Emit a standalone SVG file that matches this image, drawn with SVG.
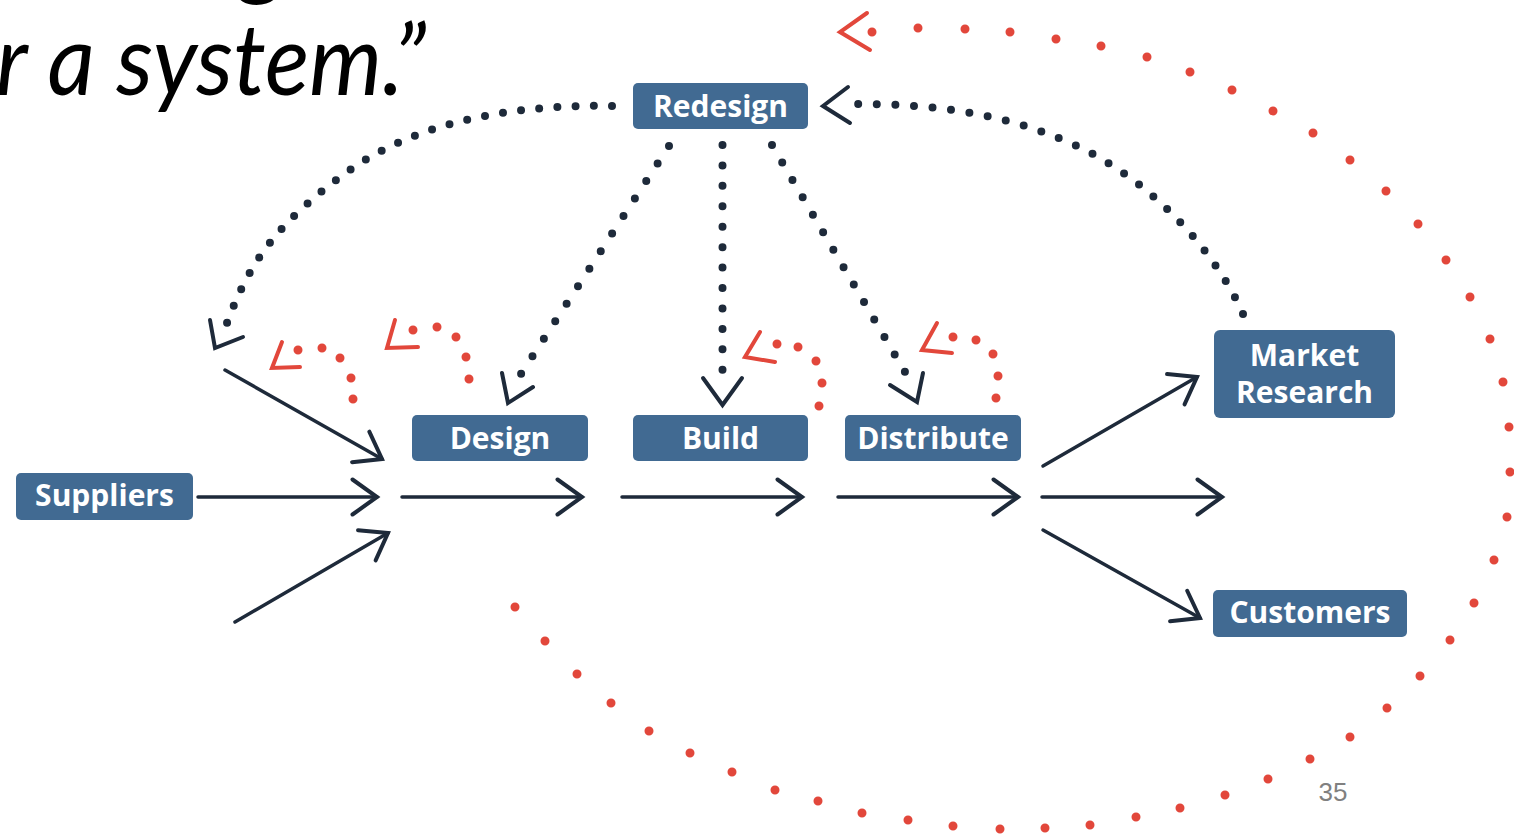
<svg xmlns="http://www.w3.org/2000/svg" width="1514" height="837" viewBox="0 0 1514 837">
  <style>
    .box { fill: #416a92; }
    .label { font-family: "Open Sans", "DejaVu Sans", sans-serif; font-weight: 700; font-size: 30px; fill: #ffffff; text-anchor: middle; }
    .flow { fill: none; stroke: #1e2a3a; stroke-width: 3.5; stroke-linecap: round; }
    .head { fill: none; stroke: #1e2a3a; stroke-width: 4; stroke-linecap: round; stroke-linejoin: miter; }
    .dots { fill: none; stroke: #1e2a3a; stroke-width: 8; stroke-linecap: round; stroke-dasharray: 0 1; }
    .rdots { fill: none; stroke: #e2473b; stroke-width: 9; stroke-linecap: round; }
    .rhead { fill: none; stroke: #e2473b; stroke-width: 4; stroke-linecap: round; stroke-linejoin: miter; }
    .quote { font-family: Lato, "Open Sans", sans-serif; font-style: italic; font-size: 100px; fill: #000000; }
  </style>
  <defs>
    <marker id="chev" viewBox="-28 -20 32 40" refX="0" refY="0" markerWidth="32" markerHeight="40" markerUnits="userSpaceOnUse" orient="auto">
      <path d="M-24.5,-17.5 L0,0 L-24.5,17.5" fill="none" stroke="#1e2a3a" stroke-width="4" stroke-linecap="round"/>
    </marker>
  </defs>

  <rect width="1514" height="837" fill="#ffffff"/>

  <!-- tail of the heading text -->
  <text class="quote" x="240" y="-14">g</text>
  <text class="quote" x="-4" y="95" textLength="430" lengthAdjust="spacingAndGlyphs">r a system.”</text>

  <g id="connectors">
    <!-- solid flow arrows -->
    <line class="flow" x1="198" y1="497" x2="377" y2="497" marker-end="url(#chev)"/>
    <line class="flow" x1="225" y1="370" x2="382" y2="459" marker-end="url(#chev)"/>
    <line class="flow" x1="235" y1="622" x2="388" y2="533" marker-end="url(#chev)"/>
    <line class="flow" x1="402" y1="497" x2="582" y2="497" marker-end="url(#chev)"/>
    <line class="flow" x1="622" y1="497" x2="802" y2="497" marker-end="url(#chev)"/>
    <line class="flow" x1="838" y1="497" x2="1018" y2="497" marker-end="url(#chev)"/>
    <line class="flow" x1="1042" y1="497" x2="1222" y2="497" marker-end="url(#chev)"/>
    <line class="flow" x1="1043" y1="466" x2="1197" y2="377" marker-end="url(#chev)"/>
    <line class="flow" x1="1043" y1="530" x2="1200" y2="618" marker-end="url(#chev)"/>

    <!-- dotted redesign loops -->
    <path class="dots" pathLength="26.01" d="M612,106 C520,104 420,120 350,170 C280,220 250,260 227,323"/>
    <path class="head" d="M210,320 L215,348 L243,337"/>
    <path class="dots" pathLength="25.01" d="M1243,314 C1215,250 1150,180 1077,146 C1004,112 930,104 858,104"/>
    <path class="head" d="M848,87 L823,106 L850,123"/>
    <path class="dots" pathLength="13.01" d="M669,146 L521,374"/>
    <path class="head" d="M502,373 L508,403 L533,387"/>
    <path class="dots" pathLength="11.01" d="M722.5,145 L722.5,370"/>
    <path class="head" d="M703,378 L722.5,405 L742,378"/>
    <path class="dots" pathLength="13.01" d="M772,145 L905,372"/>
    <path class="head" d="M890,385 L917,402 L923,373"/>

    <!-- small red feedback hooks -->
    <path class="rdots" d="M298,350h0.01 M322,348h0.01 M340,358h0.01 M351,378h0.01 M353,399h0.01"/>
    <path class="rhead" d="M282,342 L272,368 L300,367"/>
    <path class="rdots" d="M413,330h0.01 M437,327h0.01 M456,337h0.01 M466,357h0.01 M469,379h0.01"/>
    <path class="rhead" d="M395,320 L387,348 L418,347"/>
    <path class="rdots" d="M777,344h0.01 M798,347h0.01 M816,361h0.01 M822,383h0.01 M819,406h0.01"/>
    <path class="rhead" d="M760,332 L745,357 L775,362"/>
    <path class="rdots" d="M953,337h0.01 M976,340h0.01 M993,354h0.01 M998,376h0.01 M996,398h0.01"/>
    <path class="rhead" d="M937,323 L922,350 L952,353"/>

    <!-- large red outer loop -->
    <path class="rdots" d="M515,607h0.01 M545,641h0.01 M577,674h0.01 M611,703h0.01 M649,731h0.01 M690,753h0.01 M732,772h0.01 M775,790h0.01 M818,801h0.01 M862,813h0.01 M908,820h0.01 M953,826h0.01 M1000,829h0.01 M1045,828h0.01 M1090,825h0.01 M1136,817h0.01 M1180,808h0.01 M1225,795h0.01 M1268,779h0.01 M1310,759h0.01 M1350,737h0.01 M1387,708h0.01 M1420,676h0.01 M1450,640h0.01 M1474,603h0.01 M1494,560h0.01 M1507,517h0.01 M1510,472h0.01 M1509,427h0.01 M1503,382h0.01 M1490,339h0.01 M1470,297h0.01 M1446,260h0.01 M1418,224h0.01 M1386,191h0.01 M1350,160h0.01 M1313,133h0.01 M1273,111h0.01 M1232,90h0.01 M1190,72h0.01 M1147,57h0.01 M1101,46h0.01 M1056,39h0.01 M1010,32h0.01 M965,29h0.01 M918,28h0.01 M872,32h0.01"/>
    <path class="rhead" d="M867,13 L840,32 L870,50"/>
  </g>

  <g id="redesign">
    <rect class="box" x="633" y="83" width="175" height="46" rx="5"/>
    <text class="label" x="720.5" y="117">Redesign</text>
  </g>
  <g id="suppliers">
    <rect class="box" x="16" y="473" width="177" height="47" rx="5"/>
    <text class="label" x="104.5" y="506">Suppliers</text>
  </g>
  <g id="design">
    <rect class="box" x="412" y="415" width="176" height="46" rx="5"/>
    <text class="label" x="500" y="449">Design</text>
  </g>
  <g id="build">
    <rect class="box" x="633" y="415" width="175" height="46" rx="5"/>
    <text class="label" x="720.5" y="449">Build</text>
  </g>
  <g id="distribute">
    <rect class="box" x="845" y="415" width="176" height="46" rx="5"/>
    <text class="label" x="933" y="449">Distribute</text>
  </g>
  <g id="market-research">
    <rect class="box" x="1214" y="330" width="181" height="88" rx="6"/>
    <text class="label" x="1304.5" y="366">Market</text>
    <text class="label" x="1304.5" y="403">Research</text>
  </g>
  <g id="customers">
    <rect class="box" x="1213" y="590" width="194" height="47" rx="5"/>
    <text class="label" x="1310" y="623">Customers</text>
  </g>

  <text x="1333" y="801" font-family="'Liberation Sans', Arial, sans-serif" font-size="26" fill="#808080" text-anchor="middle">35</text>
</svg>
